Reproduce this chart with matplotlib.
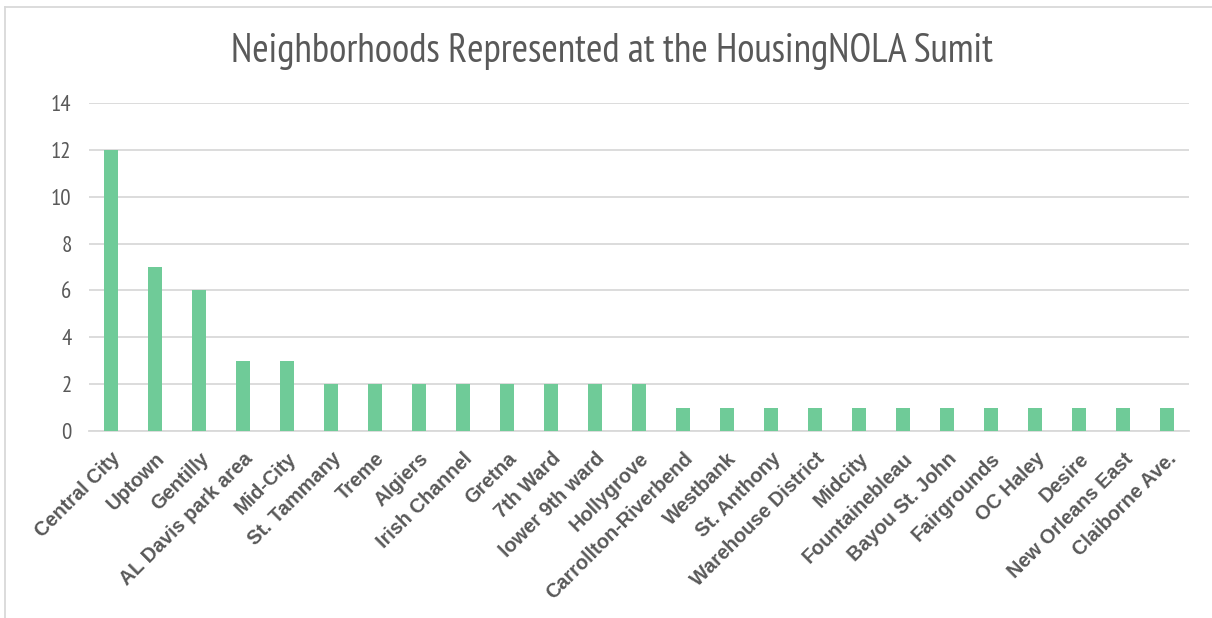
import matplotlib.pyplot as plt
from matplotlib import font_manager
from matplotlib.font_manager import FontProperties
from matplotlib.lines import Line2D
import numpy as np

neighborhoods = [
    "Central City", "Uptown", "Gentilly", "AL Davis park area", "Mid-City",
    "St. Tammany", "Treme", "Algiers", "Irish Channel", "Gretna", "7th Ward",
    "lower 9th ward", "Hollygrove", "Carrollton-Riverbend", "Westbank",
    "St. Anthony", "Warehouse District", "Midcity", "Fountainebleau",
    "Bayou St. John", "Fairgrounds", "OC Haley", "Desire",
    "New Orleans East", "Claiborne Ave.",
]
counts = [12, 7, 6, 3, 3, 2, 2, 2, 2, 2, 2, 2, 2, 1, 1, 1, 1, 1, 1, 1, 1, 1, 1, 1, 1]
y_ticks = [0, 2, 4, 6, 8, 10, 12, 14]


def narrow_font():
    """Find a condensed sans face close to Arial Narrow."""
    fonts = font_manager.fontManager.ttflist
    files = [f.fname for f in fonts]
    for key in ("arialnarrow", "liberationsansnarrow", "ptsansnarrow", "pt_sans-narrow",
                "ptsans-narrow", "archivonarrow"):
        for fn in files:
            base = fn.lower().replace(" ", "").split("/")[-1]
            if base.startswith(key) and "bold" not in base and "italic" not in base:
                return FontProperties(fname=fn)
    for f in fonts:
        if "narrow" in f.name.lower() or "condensed" in f.name.lower():
            return FontProperties(fname=f.fname)
    return FontProperties(family="Liberation Sans")


narrow = narrow_font()

text_grey = "#595959"
bar_green = "#6fcb98"

fig = plt.figure(figsize=(12.12, 6.18), dpi=100)
ax = fig.add_axes([0.0734, 0.3026, 0.9076, 0.5307])

x = np.arange(len(neighborhoods))
ax.bar(x, counts, width=0.3, color=bar_green, zorder=3)

ax.set_xlim(-0.5, len(neighborhoods) - 0.5)
ax.set_ylim(0, 14)
ax.set_yticks(y_ticks)
ax.set_yticklabels([str(v) for v in y_ticks], color=text_grey)
for lab in ax.get_yticklabels():
    lab.set_fontproperties(narrow)
    lab.set_fontsize(16.5)
ax.grid(axis="y", color="#d9d9d9", linewidth=1.3, zorder=0)
ax.tick_params(axis="y", length=0, pad=12.5)
ax.tick_params(axis="x", length=0, pad=13)
for side in ["top", "right", "left"]:
    ax.spines[side].set_visible(False)
ax.spines["bottom"].set_color("#d9d9d9")
ax.spines["bottom"].set_linewidth(1.3)

ax.set_xticks(x)
ax.set_xticklabels(neighborhoods, rotation=45, ha="right", rotation_mode="anchor",
                   fontfamily="Liberation Sans", fontweight="bold", fontsize=14.3, color=text_grey)

title = fig.text(0.505, 0.9, "Neighborhoods Represented at the HousingNOLA Sumit",
                 ha="center", va="baseline", color=text_grey, fontproperties=narrow)
title.set_fontsize(28.5)

# chart frame (only top and left edges are in view)
fig.add_artist(Line2D([5 / 1212, 1.0], [1 - 7 / 618] * 2, color="#d9d9d9", linewidth=1.3))
fig.add_artist(Line2D([5 / 1212] * 2, [0.0, 1 - 7 / 618], color="#d9d9d9", linewidth=1.3))

fig.savefig("out.png", dpi=100)
